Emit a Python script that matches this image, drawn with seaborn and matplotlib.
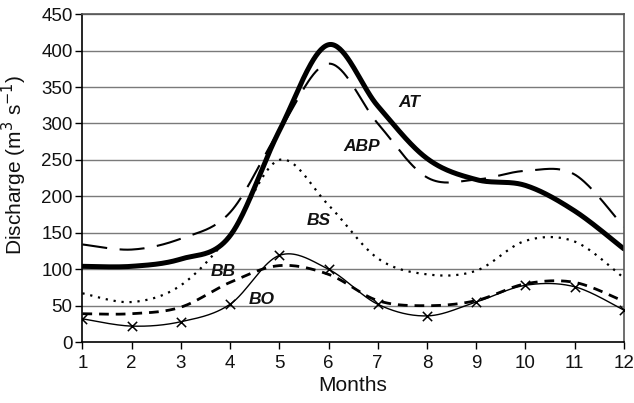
import numpy as np
import pandas as pd
import matplotlib
matplotlib.use("Agg")
import matplotlib.pyplot as plt
import seaborn as sns

months = [1, 2, 3, 4, 5, 6, 7, 8, 9, 10, 11, 12]
AT = [104, 104, 114, 146, 290, 408, 324, 252, 223, 215, 180, 128]
ABP = [134, 127, 142, 178, 290, 382, 300, 226, 223, 235, 230, 158]
BS = [67, 55, 78, 148, 250, 188, 115, 93, 98, 139, 138, 88]
BB = [39, 39, 48, 82, 105, 93, 57, 50, 57, 80, 82, 56]
BO = [32, 22, 28, 52, 119, 100, 52, 36, 55, 78, 76, 44]
yticks = [0, 50, 100, 150, 200, 250, 300, 350, 400, 450]


def smooth(x, y, n=40):
    """Excel-style smoothed line (Catmull-Rom Bezier) through the data points."""
    P = np.column_stack([x, y]).astype(float)
    P = np.vstack([P[0], P, P[-1]])
    xs, ys = [], []
    t = np.linspace(0, 1, n)
    for i in range(1, len(P) - 2):
        p0, p1, p2, p3 = P[i - 1], P[i], P[i + 1], P[i + 2]
        c1 = p1 + (p2 - p0) / 6
        c2 = p2 - (p3 - p1) / 6
        b = ((1 - t) ** 3)[:, None] * p1 + (3 * (1 - t) ** 2 * t)[:, None] * c1 \
            + (3 * (1 - t) * t ** 2)[:, None] * c2 + (t ** 3)[:, None] * p2
        xs.extend(b[:, 0]); ys.extend(b[:, 1])
    return np.array(xs), np.array(ys)


sns.set_theme(style="white")
plt.rcParams['font.family'] = ['Liberation Sans', 'DejaVu Sans']
plt.rcParams['text.color'] = 'black'
plt.rcParams['axes.labelcolor'] = 'black'

fig = plt.figure(figsize=(6.34, 4.03), dpi=100)
ax = fig.add_axes([0.130, 0.151, 0.854, 0.814])

for v in yticks[1:]:
    ax.axhline(v, color="#7a7a7a", lw=1.0, zorder=0)

styles = {
    "AT": dict(lw=3.6, dashes=None),
    "ABP": dict(lw=1.5, dashes=(12, 6)),
    "BS": dict(lw=1.6, dashes=(1, 2.6)),
    "BB": dict(lw=2.0, dashes=(3.5, 2.5)),
    "BO": dict(lw=1.0, dashes=None),
}
series = {"AT": AT, "ABP": ABP, "BS": BS, "BB": BB, "BO": BO}
for name, vals in series.items():
    sx, sy = smooth(months, vals)
    df = pd.DataFrame({"x": sx, "y": sy})
    st = styles[name]
    sns.lineplot(data=df, x="x", y="y", sort=False, estimator=None,
                 color="black", lw=st["lw"], ax=ax)
    line = ax.lines[-1]
    if st["dashes"] is not None:
        line.set_dashes(st["dashes"])
    line.set_solid_capstyle("round")

sns.scatterplot(x=months, y=BO, marker="x", color="black", s=45,
                linewidth=1.1, ax=ax, zorder=5)

labels = {"AT": (7.65, 329), "ABP": (6.67, 269), "BS": (5.80, 167),
          "BB": (3.87, 97), "BO": (4.64, 58)}
for name, (lx, ly) in labels.items():
    ax.text(lx, ly, name, fontsize=12.5, fontweight="bold", fontstyle="italic",
            ha="center", va="center", color="#111111")

ax.set_xlim(1, 12)
ax.set_ylim(0, 450)
ax.set_xticks(months)
ax.set_yticks(yticks)
ax.tick_params(axis="both", labelsize=13.5, colors="black", labelcolor="#111111",
               length=5, width=1, direction="out", bottom=True, left=True, pad=2)
ax.tick_params(axis="x", pad=4)
ax.set_xlabel("Months", fontsize=15, labelpad=3, color="#111111")
ax.set_ylabel("Discharge (m$^3$ s$^{-1}$)", fontsize=15, color="#111111")
ax.yaxis.set_label_coords(-0.099, 0.54)
for s in ["left", "bottom"]:
    ax.spines[s].set_color("black")
    ax.spines[s].set_linewidth(1.2)
for s in ["top", "right"]:
    ax.spines[s].set_color("#555555")
    ax.spines[s].set_linewidth(1.2)

fig.savefig("out.png", dpi=100)
